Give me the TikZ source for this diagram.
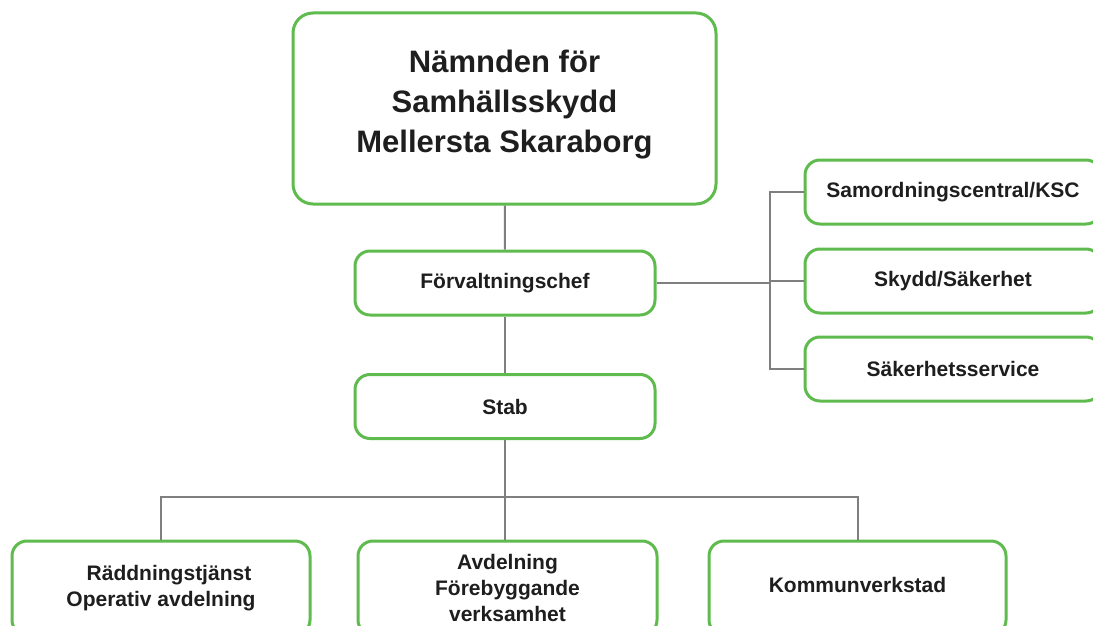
\documentclass[tikz,border=0pt]{standalone}
\usepackage{fontspec}
\setmainfont{Liberation Sans}
\usepackage{tikz}
\definecolor{green1}{HTML}{5FBB4E}
\definecolor{grey1}{HTML}{7F7F7F}
\definecolor{text1}{HTML}{1E1E1E}

\begin{document}
\begin{tikzpicture}[x=1pt,y=-1pt,
  box/.style={draw=green1,line width=3pt,fill=white,rounded corners=15pt,
    inner sep=0pt,align=center,text=text1,font=\fontsize{21}{26}\selectfont\bfseries},
  link/.style={draw=grey1,line width=2pt}]
\clip (0,0) rectangle (1093,626);
\fill[white] (0,0) rectangle (1093,626);
\node[box,minimum width=423,minimum height=191,rounded corners=20pt,
  font=\fontsize{31}{40}\selectfont\bfseries] (namnd) at (504.5,108.5)
  {\raisebox{-2pt}[0pt][0pt]{\begin{tabular}{@{}c@{}}Nämnden för\\Samhällsskydd\\Mellersta Skaraborg\end{tabular}}};
\node[box,minimum width=300,minimum height=64] (forv) at (505,283) {Förvaltningschef};
\node[box,minimum width=300,minimum height=64] (stab) at (505,406.5) {Stab};
%
\node[box,minimum width=296,minimum height=64] (ksc) at (953,192) {Samordningscentral/KSC};
\node[box,minimum width=296,minimum height=64] (skydd) at (953,281) {Skydd/Säkerhet};
\node[box,minimum width=296,minimum height=64] (serv) at (953,369) {Säkerhetsservice};
%
\node[box,minimum width=298,minimum height=94] (rtj) at (161,588) {\hspace*{16pt}Räddningstjänst\\Operativ avdelning};
\node[box,minimum width=299,minimum height=94] (avd) at (507.5,588) {Avdelning\\Förebyggande\\verksamhet};
\node[box,minimum width=297,minimum height=94] (kv) at (857.5,588) {\raisebox{-4pt}[0pt][0pt]{Kommunverkstad}};
%
\coordinate (rj) at (770,283);
\coordinate (bj) at (505,497);
\draw[link] (namnd) -- (forv);
\draw[link] (forv) -- (stab);
\draw[link] (stab.south) -- (stab.south |- avd.north);
\draw[link] (forv.east) -- (rj);
\draw[link] (ksc.west) -| (rj);
\draw[link] (skydd.west) -- (skydd.west -| rj);
\draw[link] (serv.west) -| (rj);
\draw[link] (rtj.north) |- (bj);
\draw[link] (kv.north) |- (bj);
\end{tikzpicture}
\end{document}
